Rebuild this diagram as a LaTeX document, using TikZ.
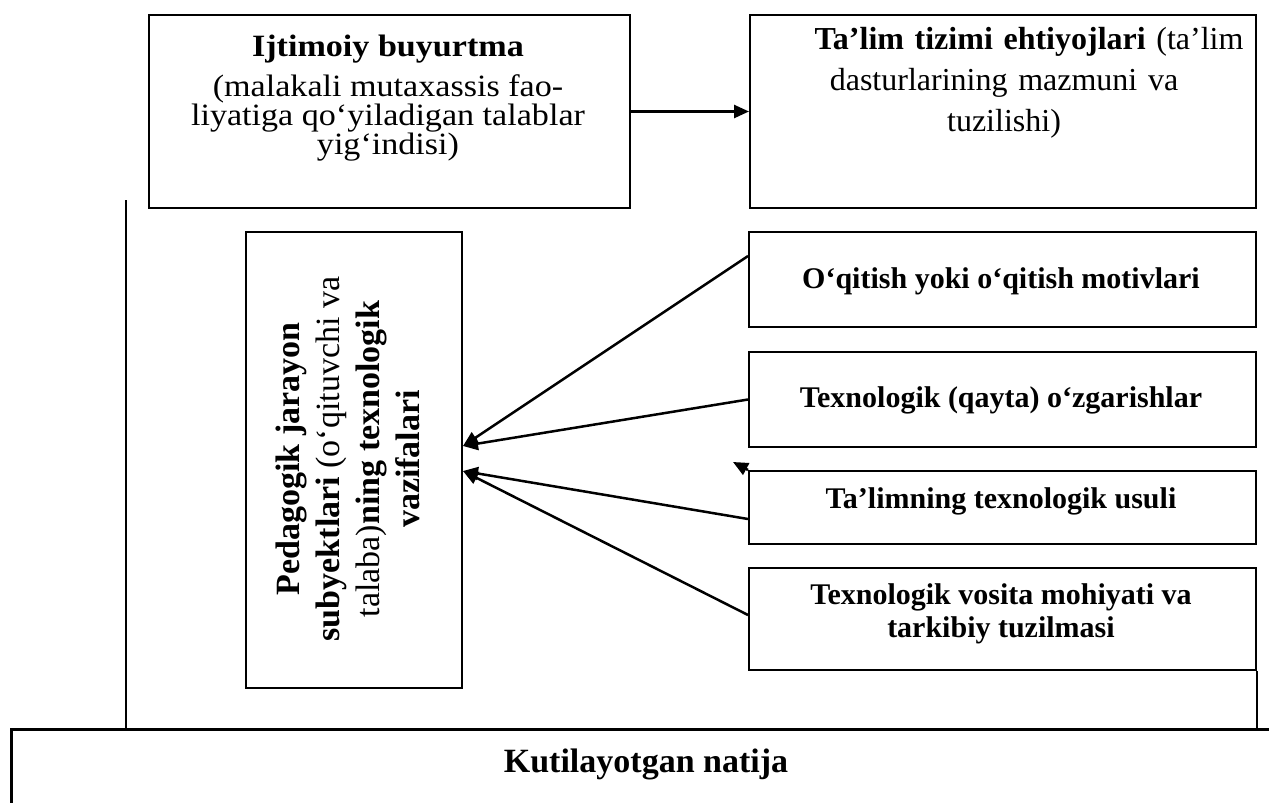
\documentclass[tikz,border=0pt]{standalone}
\usepackage{fontspec}
\setmainfont{Liberation Serif}
\newfontfamily\widefont[FakeStretch=1.1]{Liberation Serif}
\usetikzlibrary{arrows.meta}
\begin{document}
\begin{tikzpicture}[x=1pt,y=-1pt,
  box/.style={draw, line width=2pt, inner sep=0pt, anchor=north west},
  lbl/.style={inner sep=0pt, align=center},
  arr/.style={line width=2.5pt, -{Triangle[length=15pt,width=13pt]}},
  ln/.style={line width=2pt}]
\useasboundingbox (0,0) rectangle (1269,803);
\clip (0,0) rectangle (1269,803);

% boxes
\node[box, minimum width=481pt, minimum height=193pt] (b1) at (148,14) {};
\node[box, minimum width=506pt, minimum height=193pt] (b2) at (749,14) {};
\node[box, minimum width=216pt, minimum height=456pt] (ped) at (245,231) {};
\node[box, minimum width=507pt, minimum height=95pt] (m1) at (748,231) {};
\node[box, minimum width=507pt, minimum height=95pt] (m2) at (748,351) {};
\node[box, minimum width=507pt, minimum height=73pt] (m3) at (748,470) {};
\node[box, minimum width=507pt, minimum height=102pt] (m4) at (748,567) {};
\node[box, line width=2.5pt, minimum width=1300pt, minimum height=150pt] (res) at (10,728) {};

% texts
\node[lbl, font=\widefont\fontsize{31}{27}\selectfont, anchor=north] (t1) at (388,35)
  {\textbf{Ijtimoiy buyurtma}\\[10pt] (malakali mutaxassis fao-\\ liyatiga qo‘yiladigan talablar\\ yig‘indisi)};
\node[lbl, text width=500pt, font=\fontsize{32}{41}\selectfont, anchor=north] (t2) at (1004,27)
  {\hspace*{50pt}\textbf{Ta’lim tizimi ehtiyojlari} (ta’lim\\ dasturlarining mazmuni va\\ tuzilishi)};
\node[lbl, font=\fontsize{34}{40}\selectfont, rotate=90] (tp) at (348,459)
  {\textbf{Pedagogik jarayon}\\ \textbf{subyektlari} (o‘qituvchi va\\ talaba)\textbf{ning texnologik}\\ \textbf{vazifalari}};
\node[lbl, font=\bfseries\fontsize{30}{33}\selectfont] (tm1) at (1001,281) {O‘qitish yoki o‘qitish motivlari};
\node[lbl, font=\bfseries\fontsize{30}{33}\selectfont] (tm2) at (1001,400) {Texnologik (qayta) o‘zgarishlar};
\node[lbl, font=\bfseries\fontsize{30}{33}\selectfont] (tm3) at (1001,501) {Ta’limning texnologik usuli};
\node[lbl, font=\bfseries\fontsize{30}{33}\selectfont] (tm4) at (1001,614) {Texnologik vosita mohiyati va\\ tarkibiy tuzilmasi};
\node[lbl, font=\bfseries\fontsize{34}{40}\selectfont] (tr) at (646,764) {Kutilayotgan natija};

% connectors
\draw[arr] (b1.east) -- (b2.west);
\draw[arr] ([yshift=23.5pt]m1.west) -- ([yshift=14pt]ped.east);
\draw[arr] (m2.west) -- ([yshift=14pt]ped.east);
\draw[arr] ([yshift=-11.5pt]m3.west) -- ([yshift=-11pt]ped.east);
\draw[arr] ([yshift=4pt]m4.west) -- ([yshift=-11pt]ped.east);
\coordinate (s1) at (733,462);
\draw[arr] (m3.north west) -- (s1);

\coordinate (L1) at (126,200);
\draw[ln] (L1) -- (L1 |- res.north);
\draw[ln] (m4.south east) -- (m4.south east |- res.north);
\end{tikzpicture}
\end{document}
